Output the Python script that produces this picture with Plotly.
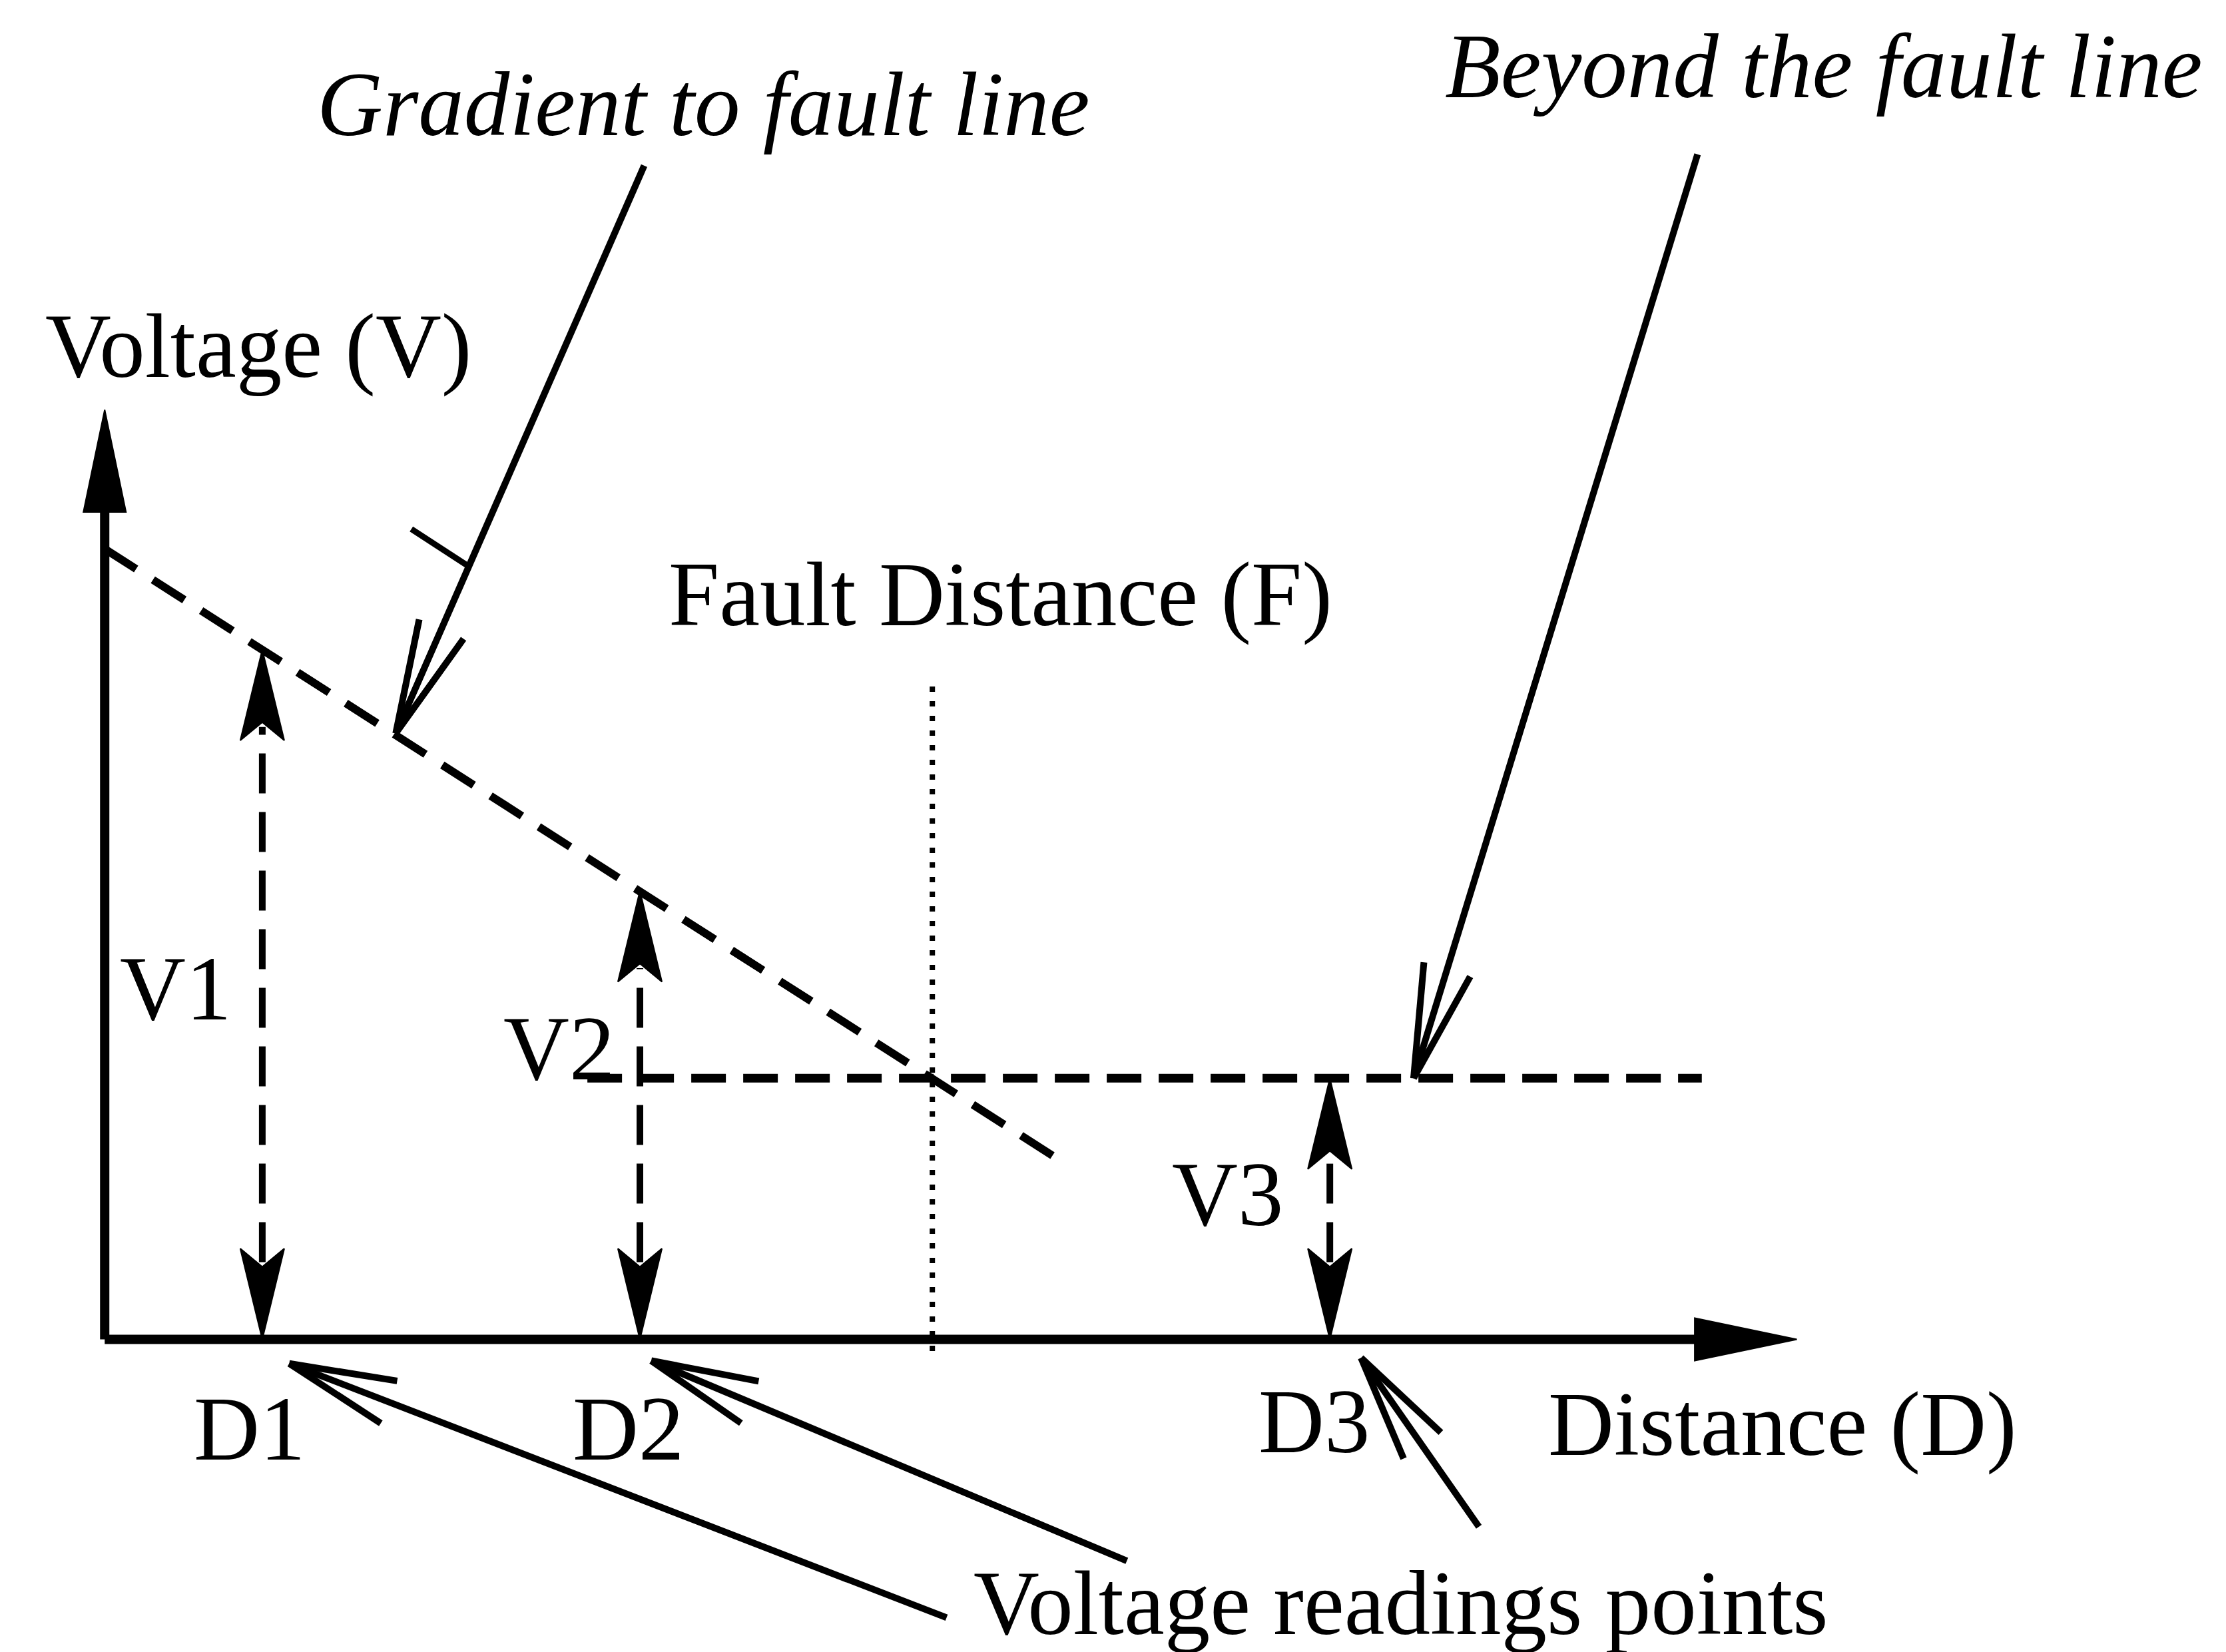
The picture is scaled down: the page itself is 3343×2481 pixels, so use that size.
import math
import plotly.graph_objects as go

# ---------------- data (diagram units) ----------------
voltage_labels = ["V1", "V2", "V3"]
distance_labels = ["D1", "D2", "D3"]
reading_distance = [1.11, 3.77, 8.63]     # D1, D2, D3
reading_voltage = [4.86, 3.16, 1.84]      # V1, V2, V3
fault_distance = 5.83
fault_line_v = [4.60, -0.10]              # extent of dotted marker
gradient_x = [0.0, 6.70]
gradient_v = [5.57, 1.28]
beyond_x = [3.40, 11.25]
beyond_v = [1.84, 1.84]
axis_x_end = 11.92
axis_v_end = 6.55

# text labels: (text, x, y, italic)
text_labels = [
    ("Gradient to fault line", 4.22, 8.70, True),
    ("Beyond the fault line", 12.11, 8.97, True),
    ("Voltage (V)", 1.08, 7.00, False),
    ("Fault Distance (F)", 6.31, 5.25, False),
    ("Distance (D)", 11.82, -0.60, False),
    ("Voltage readings points", 9.13, -1.86, False),
]
voltage_label_pos = [(0.50, 2.47), (3.20, 2.05), (7.91, 1.02)]
distance_label_pos = [(1.02, -0.63), (3.69, -0.63), (8.52, -0.58)]

# callout pointers: (tail, head)
callouts = [
    ((3.80, 8.27), (2.05, 4.27)),   # gradient
    ((11.22, 8.35), (9.22, 1.84)),  # beyond
    ((5.93, -1.96), (1.30, -0.17)), # D1
    ((7.20, -1.56), (3.85, -0.15)), # D2
    ((9.68, -1.32), (8.85, -0.13)), # D3
]
callout_tick = [(2.16, 5.71), (2.56, 5.45)]

FONT = "Liberation Serif"
FS = 137
BLACK = "black"

fig = go.Figure()


def line(xs, ys, width, dash="solid"):
    fig.add_trace(go.Scatter(x=xs, y=ys, mode="lines",
                             line=dict(color=BLACK, width=width, dash=dash),
                             hoverinfo="skip", showlegend=False))


def poly(xs, ys):
    fig.add_trace(go.Scatter(x=xs, y=ys, mode="lines", fill="toself",
                             fillcolor=BLACK, line=dict(color=BLACK, width=2),
                             hoverinfo="skip", showlegend=False))


def unit(tail, head):
    dx, dy = head[0] - tail[0], head[1] - tail[1]
    n = math.hypot(dx, dy)
    return dx / n, dy / n


def open_barbs(tail, head, length, ang_deg, width):
    ux, uy = unit(tail, head)
    bx, by = -ux, -uy
    xs, ys = [], []
    for s in (1, -1):
        a = math.radians(ang_deg) * s
        rx = bx * math.cos(a) - by * math.sin(a)
        ry = bx * math.sin(a) + by * math.cos(a)
        xs += [head[0], head[0] + rx * length, None]
        ys += [head[1], head[1] + ry * length, None]
    line(xs, ys, width)


def filled_head(tail, head, length, half_w, notch=0.0):
    ux, uy = unit(tail, head)
    px, py = -uy, ux
    bx, by = head[0] - ux * length, head[1] - uy * length
    nx, ny = head[0] - ux * length * (1 - notch), head[1] - uy * length * (1 - notch)
    xs = [head[0], bx + px * half_w, nx, bx - px * half_w, head[0]]
    ys = [head[1], by + py * half_w, ny, by - py * half_w, head[1]]
    poly(xs, ys)


# axes
AX_W = 14
line([0, 0], [0, axis_v_end - 0.6], AX_W)
line([0, axis_x_end - 0.6], [0, 0], AX_W)
filled_head((0, 0), (0, axis_v_end), 0.72, 0.15)
filled_head((0, 0), (axis_x_end, 0), 0.72, 0.15)

# gradient and beyond dashed lines
line(gradient_x, gradient_v, 12, "56px,30px")
line(beyond_x, beyond_v, 13, "52px,26px")

# fault distance dotted line
line([fault_distance, fault_distance], fault_line_v, 8, "8px,14px")

# voltage readings (double-headed dashed arrows)
HL, HW = 0.64, 0.155
for d, v in zip(reading_distance, reading_voltage):
    line([d, d], [HL * 0.85, v - HL * 0.85], 10, "60px,28px")
    filled_head((d, 0), (d, v), HL, HW, notch=0.2)
    filled_head((d, v), (d, 0), HL, HW, notch=0.2)

# callout pointers
for i, (tail, head) in enumerate(callouts):
    line([tail[0], head[0]], [tail[1], head[1]], 10)
    length = 0.82 if i < 2 else 0.77
    open_barbs(tail, head, length, 12, 10)
line([callout_tick[0][0], callout_tick[1][0]], [callout_tick[0][1], callout_tick[1][1]], 9)

# texts
annotations = []
for t, x, y, it in text_labels:
    annotations.append(dict(x=x, y=y, text=t, showarrow=False, xanchor="center", yanchor="middle",
                            font=dict(family=FONT, size=FS, color=BLACK,
                                      style="italic" if it else "normal")))
for t, (x, y) in zip(voltage_labels, voltage_label_pos):
    annotations.append(dict(x=x, y=y, text=t, showarrow=False, xanchor="center", yanchor="middle",
                            font=dict(family=FONT, size=FS, color=BLACK)))
for t, (x, y) in zip(distance_labels, distance_label_pos):
    annotations.append(dict(x=x, y=y, text=t, showarrow=False, xanchor="center", yanchor="middle",
                            font=dict(family=FONT, size=FS, color=BLACK)))

fig.update_layout(
    width=3343, height=2481,
    margin=dict(l=0, r=0, t=0, b=0),
    paper_bgcolor="white", plot_bgcolor="white",
    xaxis=dict(range=[-0.70, 14.98], visible=False, fixedrange=True),
    yaxis=dict(range=[-2.24, 9.40], visible=False, fixedrange=True),
    annotations=annotations,
    showlegend=False,
)

fig.write_html("out.html")
